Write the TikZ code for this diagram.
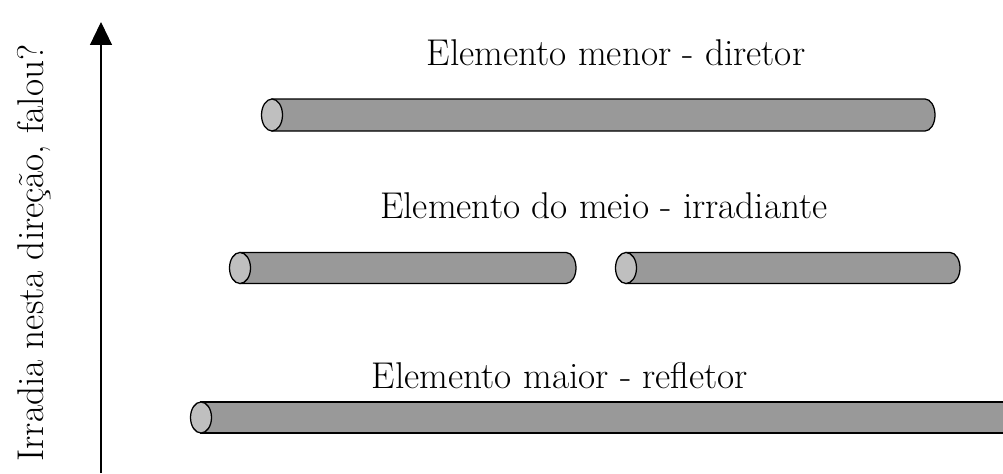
\documentclass[tikz,border=0pt]{standalone}
\usepackage{tikz}
\usetikzlibrary{arrows.meta}

\tikzset{
	corpo/.style={draw=black, fill=black!40, line width=0.9pt},
	tampa/.style={draw=black, fill=black!25, line width=0.9pt},
	rotulo/.style={font=\fontsize{26.5}{32}\selectfont, inner sep=0pt, anchor=base},
}

\begin{document}
\begin{tikzpicture}[x=0.025cm, y=-0.025cm]
			\useasboundingbox (0,0) rectangle (1003,473);
			\clip (0,0) rectangle (1003,473);
			
			\coordinate (base) at (101,473);
			\coordinate (topo) at (101,22);
			\node[rotulo, rotate=90] (direcao) at (43,253) {Irradia nesta direção, falou?};
			
			\node[rotulo] (diretor) at (616,65) {Elemento menor - diretor};
			\node[rotulo] (irradiante) at (604,218) {Elemento do meio - irradiante};
			\node[rotulo] (refletor) at (560,388) {Elemento maior - refletor};
			
			\draw[corpo] (272,99) -- (925,99) arc[start angle=-90, end angle=90, x radius=10, y radius=16] -- (272,131) -- cycle;
			\draw[tampa] (272,115) ellipse [x radius=10.5, y radius=16];
			
			\draw[corpo] (240,252.5) -- (566,252.5) arc[start angle=-90, end angle=90, x radius=10, y radius=15.5] -- (240,283.5) -- cycle;
			\draw[tampa] (240,268) ellipse [x radius=10.5, y radius=15.5];
			
			\draw[corpo] (626,252.5) -- (950,252.5) arc[start angle=-90, end angle=90, x radius=10, y radius=15.5] -- (626,283.5) -- cycle;
			\draw[tampa] (626,268) ellipse [x radius=10.5, y radius=15.5];
			
			\draw[corpo] (201,402) -- (1015,402) -- (1015,433) -- (201,433) -- cycle;
			\draw[tampa] (201,417.5) ellipse [x radius=10.5, y radius=15.5];
			
			\draw[-{Triangle[length=16.3pt, width=15.6pt]}, line width=0.8pt] (base) -- (topo);
\end{tikzpicture}
\end{document}
